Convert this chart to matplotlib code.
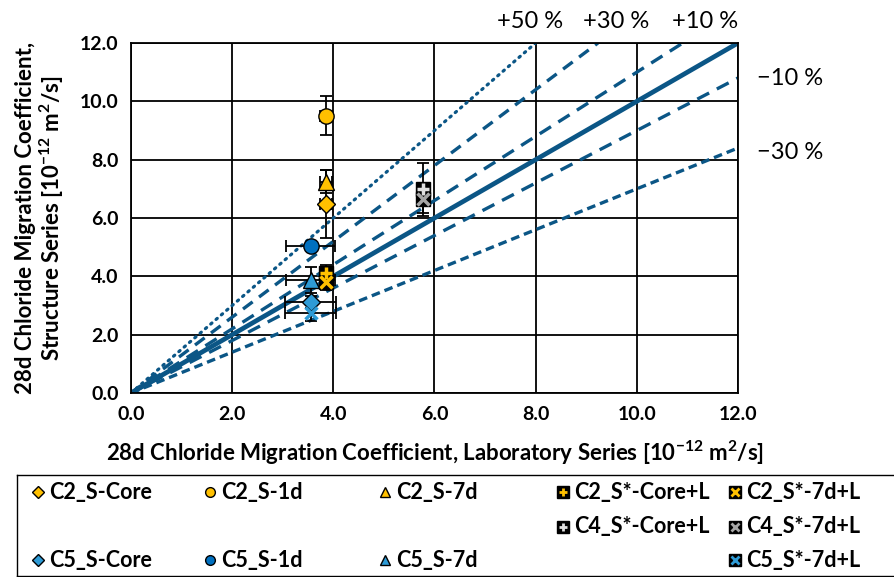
import matplotlib
matplotlib.use("Agg")
import matplotlib.pyplot as plt

plt.rcParams['font.family'] = ['Lato', 'DejaVu Sans']
plt.rcParams['mathtext.fontset'] = 'custom'
plt.rcParams['mathtext.rm'] = 'Lato'
plt.rcParams['mathtext.bf'] = 'Lato:bold'

# data
names = ["C2_S-Core", "C2_S-1d", "C2_S-7d", "C2_S*-Core+L", "C2_S*-7d+L",
         "C4_S*-Core+L", "C4_S*-7d+L", "C5_S-Core", "C5_S-1d", "C5_S-7d", "C5_S*-7d+L"]
lab_x = [3.85, 3.85, 3.85, 3.85, 3.85, 5.78, 5.78, 3.55, 3.55, 3.55, 3.55]
struct_y = [6.48, 9.50, 7.25, 4.10, 3.80, 6.98, 6.66, 3.12, 5.04, 3.88, 2.76]
x_err = [0.12, 0.12, 0.12, 0.10, 0.10, 0.10, 0.10, 0.50, 0.48, 0.48, 0.50]
y_err = [1.15, 0.67, 0.40, 0.30, 0.27, 0.90, 0.50, 0.20, 0.10, 0.45, 0.30]

slopes = [1.5, 1.3, 1.1, 1.0, 0.9, 0.7]
slope_labels = ["+50 %", "+30 %", "+10 %", "", "\u221210 %", "\u221230 %"]
# where each percentage label sits (data coords)
label_pos = [(7.89, 12.72), (9.59, 12.72), (11.35, 12.72), None, (12.37, 10.77), (12.37, 8.26)]

yellow = "#FFC000"
blue = "#0070C0"
lblue = "#2E9BD6"
gray = "#A6A6A6"
white = "#E0E0E0"
line_col = "#0B5686"

# marker style per series: (marker, colour, black square behind?)
styles = [("D", yellow, False), ("o", yellow, False), ("^", yellow, False),
          ("+", yellow, True), ("x", yellow, True),
          ("+", white, True), ("x", gray, True),
          ("D", lblue, False), ("o", blue, False), ("^", lblue, False),
          ("x", lblue, False)]

fig = plt.figure(figsize=(8.95, 5.77), dpi=100)
ax = fig.add_axes([131/895, 184/577, 607/895, 350/577])

# reference lines
lstyles = [(0, (0.5, 1.7)), (0, (3.6, 2.4)), (0, (4.0, 2.6)), "-", (0, (4.0, 2.6)), (0, (2.6, 1.5))]
lwidths = [2.3, 2.4, 2.4, 3.4, 2.4, 2.4]
for k, (s, ls, lw) in enumerate(zip(slopes, lstyles, lwidths)):
    xe = min(12.0, 12.0 / s)
    ax.plot([0, xe], [0, s * xe], color=line_col, lw=lw, ls=ls, zorder=2,
            dash_capstyle='round' if k == 0 else 'butt')

for i in range(len(names)):
    ax.errorbar(lab_x[i], struct_y[i], xerr=x_err[i], yerr=y_err[i], fmt='none',
                ecolor='black', elinewidth=1.3, capsize=4, capthick=1.3, zorder=3)
for i in range(len(names)):
    mk, fc, sq = styles[i]
    if sq:
        ax.plot(lab_x[i], struct_y[i], marker='s', ms=10, mfc='black', mec='black',
                ls='none', zorder=4)
    if mk in '+x':
        ax.plot(lab_x[i], struct_y[i], marker=mk, ms=8, mec=fc, mew=2.5,
                ls='none', zorder=5)
    else:
        ax.plot(lab_x[i], struct_y[i], marker=mk, ms=9 if mk == 'D' else 11,
                mfc=fc, mec='black', mew=1.0, ls='none', zorder=5)

ax.set_xlim(0, 12)
ax.set_ylim(0, 12)
ax.set_xticks([0, 2, 4, 6, 8, 10, 12])
ax.set_yticks([0, 2, 4, 6, 8, 10, 12])
ax.set_xticklabels([f"{v:.1f}" for v in ax.get_xticks()], fontweight='bold', fontsize=14)
ax.set_yticklabels([f"{v:.1f}" for v in ax.get_yticks()], fontweight='bold', fontsize=14)
ax.tick_params(length=0, pad=9)
ax.grid(True, color='black', lw=1.3)
ax.set_axisbelow(True)
for sp in ax.spines.values():
    sp.set_linewidth(1.3)

ax.set_xlabel(r"28d Chloride Migration Coefficient, Laboratory Series [10$^{\mathbf{-12}}$ m$^{\mathbf{2}}$/s]",
              fontweight='bold', fontsize=16, labelpad=12)
ax.set_ylabel("28d Chloride Migration Coefficient,\n"
              r"Structure Series [10$^{\mathbf{-12}}$ m$^{\mathbf{2}}$/s]",
              fontweight='bold', fontsize=16, labelpad=10, linespacing=1.05)

# percentage labels
for lab, pos in zip(slope_labels, label_pos):
    if not lab:
        continue
    ha = 'center' if pos[1] > 12 else 'left'
    ax.text(pos[0], pos[1], lab, ha=ha, va='center', fontsize=17, clip_on=False)

# legend box laid out as in the reference
lax = fig.add_axes([17/895, 1/577, 890/895, 101/577])
lax.set_xlim(0, 890)
lax.set_ylim(101, 0)
lax.set_xticks([])
lax.set_yticks([])
for sp in lax.spines.values():
    sp.set_linewidth(1.0)
col_x = [21, 193, 368, 546, 718]
row_y = [17, 52, 85]
slots = {0: (0, 0), 1: (1, 0), 2: (2, 0), 3: (3, 0), 4: (4, 0),
         5: (3, 1), 6: (4, 1), 7: (0, 2), 8: (1, 2), 9: (2, 2), 10: (4, 2)}
for i, (c, r) in slots.items():
    mk, fc, sq = styles[i]
    x, y = col_x[c], row_y[r]
    if mk in '+x':
        lax.plot(x, y, marker='s', ms=8, mfc='black', mec='black', ls='none')
        lax.plot(x, y, marker=mk, ms=6, mec=fc, mew=2.0, ls='none')
    else:
        lax.plot(x, y, marker=mk, ms=7 if mk != 'D' else 6, mfc=fc, mec='black', mew=1.0, ls='none')
    lax.text(x + 11, y, names[i], fontweight='bold', fontsize=15.5, va='center', ha='left')

fig.savefig("out.png", dpi=100)
